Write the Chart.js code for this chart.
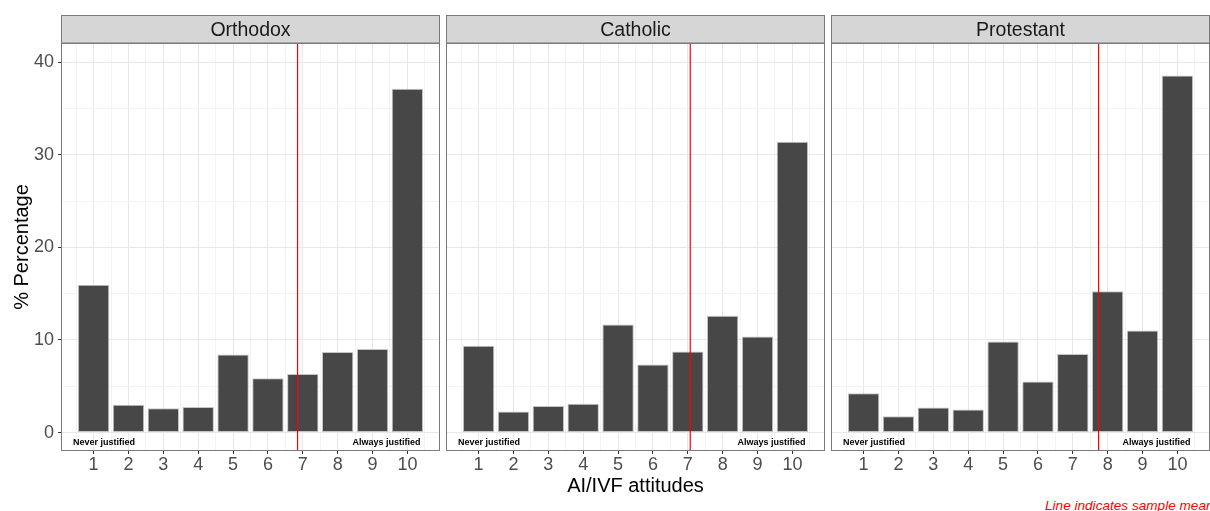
<!DOCTYPE html>
<html>
<head>
<meta charset="utf-8">
<script src="https://cdn.jsdelivr.net/npm/chart.js@4.4.1/dist/chart.umd.min.js"></script>
<style>
  body { margin: 0; background: #fff; width: 1210px; height: 511px; overflow: hidden; position: relative; font-family: "Liberation Sans", Arial, sans-serif; }
  canvas { position: absolute; top: 0; }
  #tituloX { position: absolute; left: 61px; width: 1149px; top: 475px; text-align: center; font-size: 20px; line-height: 20px; color: #000; }
  #tituloY { position: absolute; left: -129px; top: 237px; width: 300px; text-align: center; font-size: 20px; line-height: 20px; color: #000; transform: rotate(-90deg); }
  #legenda { position: absolute; left: 1045px; top: 499px; font-size: 13.6px; line-height: 14px; font-style: italic; color: #ff0000; white-space: nowrap; }
</style>
</head>
<body>
<canvas id="grafico01" width="440" height="483" style="left:0px"></canvas>
<canvas id="grafico02" width="379" height="483" style="left:446px"></canvas>
<canvas id="grafico03" width="379" height="483" style="left:831px"></canvas>
<div id="tituloX">AI/IVF attitudes</div>
<div id="tituloY">% Percentage</div>
<div id="legenda">Line indicates sample mean</div>

<script>
// dados
const categorias = [1, 2, 3, 4, 5, 6, 7, 8, 9, 10];
const religioes = ['Orthodox', 'Catholic', 'Protestant'];
const ortodoxo = [15.97, 2.99, 2.63, 2.77, 8.44, 5.87, 6.31, 8.69, 9.01, 37.13];
const catolico = [9.37, 2.27, 2.88, 3.10, 11.68, 7.35, 8.76, 12.61, 10.38, 31.40];
const protestante = [4.25, 1.76, 2.70, 2.49, 9.84, 5.51, 8.47, 15.25, 11.03, 38.54];
const medias = [6.85, 7.07, 7.74];

// eixos
const ticksY = [0, 10, 20, 30, 40];
const gradeMenorY = [5, 15, 25, 35];
const gradeMenorX = [0.5, 1.5, 2.5, 3.5, 4.5, 5.5, 6.5, 7.5, 8.5, 9.5, 10.5];
const limitesX = [0.065, 10.935];
const limitesY = [-1.99, 42.06];

// textos dentro do painel
const textoNunca = 'Never justified';
const textoSempre = 'Always justified';
const posTextoX = [1.3, 9.4];
const posTextoY = -1.1;

const fonte = '"Liberation Sans", Arial, sans-serif';

const painelPlugin = {
    id: 'painel',
    beforeDraw(chart, args, opts) {
        const a = chart.chartArea;
        const ctx = chart.ctx;
        ctx.save();
        ctx.fillStyle = '#d6d6d6';
        ctx.fillRect(a.left, 16, a.right - a.left, a.top - 16);
        ctx.strokeStyle = '#7a7a7a';
        ctx.lineWidth = 1;
        ctx.strokeRect(a.left + 0.5, 15.5, a.right - a.left - 1, a.top - 15.5);
        ctx.fillStyle = '#1a1a1a';
        ctx.font = '19.5px ' + fonte;
        ctx.textAlign = 'center';
        ctx.textBaseline = 'middle';
        ctx.fillText(opts.titulo, (a.left + a.right) / 2, (16 + a.top) / 2 + 1.5);
        ctx.restore();
    },
    afterDatasetsDraw(chart) {
        const a = chart.chartArea;
        const ctx = chart.ctx;
        const x = chart.scales.x;
        const y = chart.scales.y;
        ctx.save();
        ctx.fillStyle = '#000';
        ctx.font = 'bold 9px ' + fonte;
        ctx.textAlign = 'center';
        ctx.textBaseline = 'middle';
        ctx.fillText(textoNunca, x.getPixelForValue(posTextoX[0]), y.getPixelForValue(posTextoY));
        ctx.fillText(textoSempre, x.getPixelForValue(posTextoX[1]), y.getPixelForValue(posTextoY));
        ctx.strokeStyle = '#7a7a7a';
        ctx.lineWidth = 1;
        ctx.strokeRect(a.left + 0.5, a.top + 0.5, a.right - a.left - 1, a.bottom - a.top - 1);
        ctx.restore();
    }
};

function plotarPainel(idCanvas, titulo, valores, media, mostrarY) {
    const grafico = document.getElementById(idCanvas);
    new Chart(grafico, {
        type: 'bar',
        data: {
            datasets: [{
                type: 'line',
                data: [{ x: media, y: limitesY[0] }, { x: media, y: limitesY[1] }],
                borderColor: '#ff0000',
                borderWidth: 1.2,
                pointRadius: 0,
                order: 0
            }, {
                label: titulo,
                data: categorias.map((c, i) => ({ x: c, y: valores[i] })),
                backgroundColor: '#474747',
                borderColor: '#c4c4c4',
                borderWidth: 1,
                borderSkipped: false,
                // a grade de meio em meio define o espaco minimo, entao 1.8 = 0.9 de cada categoria
                barPercentage: 1.8,
                categoryPercentage: 1,
                order: 1
            }]
        },
        options: {
            responsive: false,
            animation: false,
            layout: { padding: { top: 43, left: 0, right: 0, bottom: 0 } },
            plugins: {
                legend: { display: false },
                tooltip: { enabled: false },
                painel: { titulo: titulo }
            },
            scales: {
                x: {
                    type: 'linear',
                    min: limitesX[0],
                    max: limitesX[1],
                    offset: false,
                    border: { display: false },
                    afterBuildTicks: (s) => {
                        s.ticks = categorias.concat(gradeMenorX).sort((p, q) => p - q).map(v => ({ value: v }));
                    },
                    afterFit: (s) => { s.height = 32; },
                    grid: {
                        offset: false,
                        color: (c) => categorias.includes(c.tick.value) ? '#e8e8e8' : '#f3f3f3',
                        lineWidth: 1,
                        tickLength: 3,
                        tickColor: (c) => categorias.includes(c.tick.value) ? '#333333' : 'rgba(0,0,0,0)'
                    },
                    ticks: {
                        autoSkip: false,
                        maxRotation: 0,
                        padding: 0,
                        color: '#4d4d4d',
                        font: { family: fonte, size: 18 },
                        callback: (v) => categorias.includes(v) ? v : ''
                    }
                },
                y: {
                    min: limitesY[0],
                    max: limitesY[1],
                    border: { display: false },
                    afterBuildTicks: (s) => {
                        s.ticks = ticksY.concat(gradeMenorY).sort((p, q) => p - q).map(v => ({ value: v }));
                    },
                    afterFit: (s) => { s.width = mostrarY ? 61 : 0; },
                    grid: {
                        color: (c) => ticksY.includes(c.tick.value) ? '#e8e8e8' : '#f3f3f3',
                        lineWidth: 1,
                        drawTicks: mostrarY,
                        tickLength: 3,
                        tickColor: (c) => ticksY.includes(c.tick.value) ? '#333333' : 'rgba(0,0,0,0)'
                    },
                    ticks: {
                        display: mostrarY,
                        autoSkip: false,
                        padding: 4,
                        color: '#4d4d4d',
                        font: { family: fonte, size: 18 },
                        callback: (v) => ticksY.includes(v) ? v : ''
                    }
                }
            }
        },
        plugins: [painelPlugin]
    });
}

plotarPainel('grafico01', religioes[0], ortodoxo, medias[0], true);
plotarPainel('grafico02', religioes[1], catolico, medias[1], false);
plotarPainel('grafico03', religioes[2], protestante, medias[2], false);
</script>
</body>
</html>
